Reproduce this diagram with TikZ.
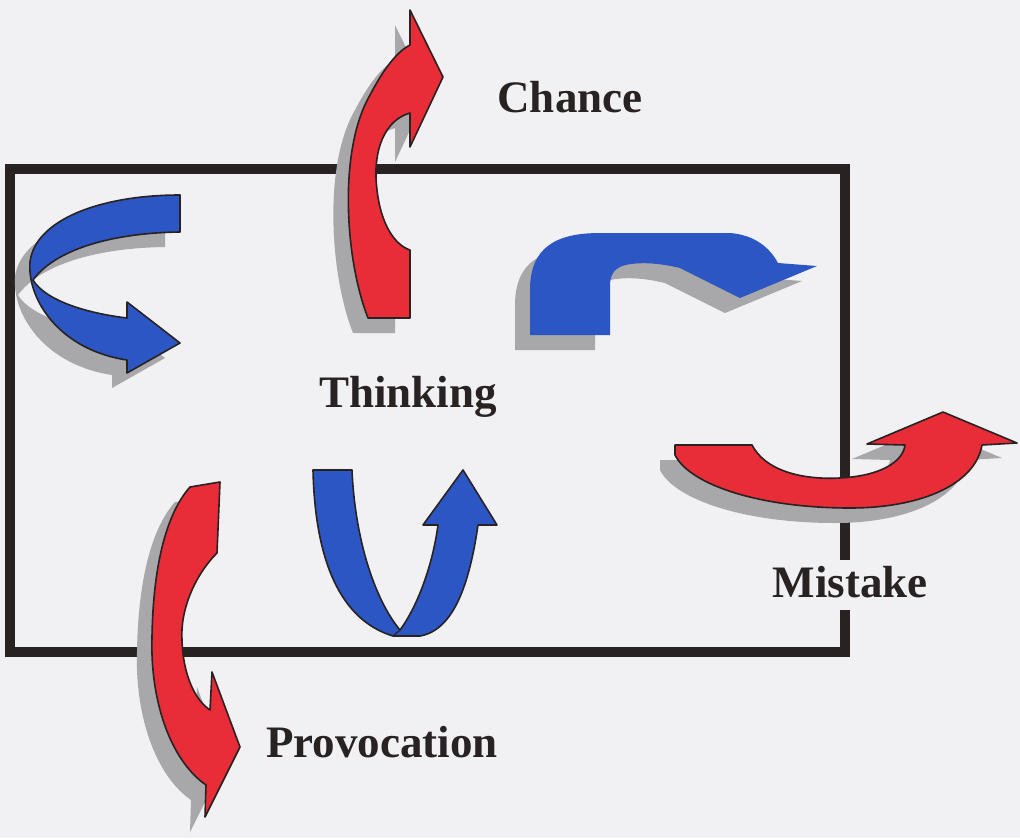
\documentclass[tikz,border=0pt]{standalone}
\usepackage{fontspec}
\setmainfont{Liberation Serif}
\definecolor{bgcol}{RGB}{241,241,243}
\definecolor{redfill}{RGB}{232,44,56}
\definecolor{bluefill}{RGB}{44,86,196}
\definecolor{shadowcol}{RGB}{168,168,170}
\definecolor{inkcol}{RGB}{40,34,34}
\begin{document}
\begin{tikzpicture}[x=1pt,y=-1pt,
  frame/.style={draw=inkcol,line width=10pt,line join=miter},
  shad/.style={preaction={fill=shadowcol,transform canvas={shift={(-15pt,-15pt)}}}},
  redarrow/.style={fill=redfill,draw=inkcol,line width=1.6pt,line join=round},
  bluearrow/.style={fill=bluefill,draw=inkcol,line width=1.6pt,line join=round},
  label/.style={font=\fontsize{45}{50}\selectfont\bfseries,text=inkcol,anchor=base,inner sep=0pt}]
\fill[bgcol] (0,0) rectangle (1020,838);
\useasboundingbox (0,0) rectangle (1020,838);
% frame
\draw[frame] (845,610) -- (845,652) -- (9.5,652) -- (9.5,169) -- (845,169) -- (845,560);
% left blue arrow
\filldraw[bluearrow,shad] (180,195) .. controls (100,195) and (35,220) .. (30,262)
  .. controls (27,300) and (60,350) .. (127,360) -- (127,373) -- (180,343) -- (127,302) -- (127,318)
  .. controls (85,313) and (45,300) .. (33,280)
  .. controls (55,250) and (110,233) .. (180,232) -- cycle;
% chance red arrow
\filldraw[redarrow,shad] (410,250) -- (410,318) -- (368,318)
  .. controls (345,260) and (338,150) .. (370,95)
  .. controls (382,72) and (396,52) .. (410,45)
  -- (410,10) -- (443,77) -- (410,147) -- (410,113)
  .. controls (385,120) and (372,150) .. (377,190)
  .. controls (381,225) and (395,245) .. (410,250) -- cycle;
% top-right blue hook arrow
\fill[bluefill,shad] (530,335) -- (530,290) .. controls (530,248) and (555,233) .. (600,233)
  -- (730,233) .. controls (755,235) and (770,248) .. (778,263)
  -- (817,266) -- (740,298) -- (680,268)
  .. controls (655,262) and (635,262) .. (622,266)
  .. controls (613,270) and (610,276) .. (610,286) -- (610,335) -- cycle;
% mistake red arrow
\filldraw[redarrow,shad] (675,445) -- (752,445) .. controls (765,470) and (800,480) .. (840,478)
  .. controls (880,476) and (903,462) .. (905,445)
  -- (867,444) -- (943,412) -- (1017,443) -- (982,445)
  .. controls (975,485) and (920,508) .. (850,508)
  .. controls (760,508) and (690,485) .. (675,455) -- cycle;
% provocation red arrow
\filldraw[redarrow,shad] (190,487) -- (220,482) -- (217,553)
  .. controls (195,575) and (180,610) .. (182,640)
  .. controls (183,675) and (195,700) .. (210,710)
  -- (212,672) -- (240,747) -- (205,817) -- (206,785)
  .. controls (170,760) and (150,700) .. (152,637)
  .. controls (153,570) and (165,515) .. (190,487) -- cycle;
% U blue arrow
\filldraw[bluearrow] (313,470) -- (352,470) .. controls (355,540) and (375,600) .. (400,630)
  .. controls (415,610) and (432,570) .. (438,525)
  -- (423,525) -- (463,470) -- (497,525) -- (478,525)
  .. controls (470,580) and (455,630) .. (420,636) -- (393,636)
  .. controls (340,620) and (315,560) .. (313,470) -- cycle;
\draw[inkcol,line width=1.2pt] (393,636) -- (400,630);
% labels
\node[label] (chance) at (570,112) {Chance};
\node[label] (thinking) at (408,407) {Thinking};
\node[label,fill=bgcol,inner sep=6pt] (mistake) at (850,597) {Mistake};
\node[label] (provocation) at (382,757) {Provocation};
\end{tikzpicture}
\end{document}
